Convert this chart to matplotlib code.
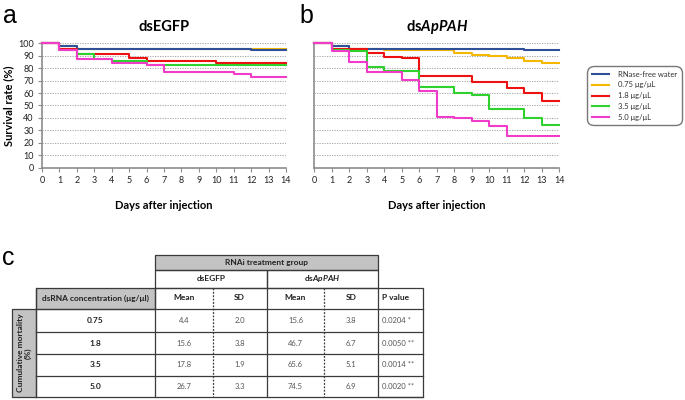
import matplotlib
matplotlib.use("Agg")
import matplotlib.pyplot as plt
from matplotlib.patches import Rectangle
from matplotlib.lines import Line2D

plt.rcParams['font.family'] = ['Lato', 'DejaVu Sans']
plt.rcParams['mathtext.fontset'] = 'custom'
plt.rcParams['mathtext.bfit'] = 'Lato:italic:bold'
plt.rcParams['mathtext.it'] = 'Lato:italic'
plt.rcParams['mathtext.rm'] = 'Lato'

# ---- survival data (step changes: day, survival %) ----
series_names = ['RNase-free water', '0.75 \u03bcg/\u03bcL', '1.8 \u03bcg/\u03bcL',
                '3.5 \u03bcg/\u03bcL', '5.0 \u03bcg/\u03bcL']
colors = ['#2f4f96', '#f5b800', '#ee1111', '#2ed12e', '#f03cc8']

egfp_water_days = [0, 1, 2, 12, 14]
egfp_water = [100, 97.8, 95.6, 94.4, 94.4]
egfp_075_days = [0, 1, 2, 14]
egfp_075 = [100, 97.8, 95.8, 95.8]
egfp_18_days = [0, 1, 2, 5, 6, 10, 14]
egfp_18 = [100, 95.4, 91.3, 88.0, 85.6, 84.4, 84.4]
egfp_35_days = [0, 1, 2, 3, 4, 6, 14]
egfp_35 = [100, 95.0, 91.3, 87.4, 86.0, 82.2, 82.2]
egfp_50_days = [0, 1, 2, 4, 6, 7, 11, 12, 14]
egfp_50 = [100, 94.4, 87.2, 84.0, 82.6, 77.0, 75.6, 73.3, 73.3]

appah_water_days = [0, 1, 2, 12, 14]
appah_water = [100, 97.5, 95.7, 94.5, 94.5]
appah_075_days = [0, 1, 2, 4, 8, 9, 10, 11, 12, 13, 14]
appah_075 = [100, 97.5, 95.6, 94.8, 92.4, 90.4, 89.5, 88.2, 86.0, 84.4, 84.4]
appah_18_days = [0, 1, 3, 4, 5, 6, 9, 11, 12, 13, 14]
appah_18 = [100, 95.4, 92.4, 89.3, 87.8, 74.0, 69.2, 63.8, 60.2, 53.3, 53.3]
appah_35_days = [0, 1, 2, 3, 4, 6, 8, 9, 10, 12, 13, 14]
appah_35 = [100, 95.0, 93.8, 80.9, 77.9, 64.6, 60.0, 58.7, 46.9, 40.2, 34.4, 34.4]
appah_50_days = [0, 1, 2, 3, 5, 6, 7, 8, 9, 10, 11, 14]
appah_50 = [100, 94.1, 85.3, 77.2, 70.3, 61.7, 41.0, 39.6, 37.8, 33.5, 25.5, 25.5]

panel_titles = ['dsEGFP', r'ds$\mathbfit{ApPAH}$']
day_ticks = list(range(0, 15))
rate_ticks = list(range(0, 101, 10))

# ---- table data ----
conc_labels = ['0.75', '1.8', '3.5', '5.0']
egfp_mean = [4.4, 15.6, 17.8, 26.7]
egfp_sd = [2.0, 3.8, 1.9, 3.3]
appah_mean = [15.6, 46.7, 65.6, 74.5]
appah_sd = [3.8, 6.7, 5.1, 6.9]
p_values = ['0.0204 *', '0.0050 **', '0.0014 **', '0.0020 **']

W, H = 685, 400
fig = plt.figure(figsize=(W / 100, H / 100), dpi=100)


def frac(x0, y0, x1, y1):
    return [x0 / W, 1 - y1 / H, (x1 - x0) / W, (y1 - y0) / H]


panels = [
    [(egfp_water_days, egfp_water), (egfp_075_days, egfp_075), (egfp_18_days, egfp_18),
     (egfp_35_days, egfp_35), (egfp_50_days, egfp_50)],
    [(appah_water_days, appah_water), (appah_075_days, appah_075), (appah_18_days, appah_18),
     (appah_35_days, appah_35), (appah_50_days, appah_50)],
]
ax_boxes = [frac(42, 43.3, 286, 167.7), frac(314.3, 43.3, 559.3, 167.7)]
zorders = [3, 2, 4, 5, 6]

axes = []
for i, (data, box) in enumerate(zip(panels, ax_boxes)):
    ax = fig.add_axes(box)
    for (d, v), c, z in zip(data, colors, zorders):
        ax.step(d, v, where='post', color=c, lw=1.5, zorder=z, clip_on=False)
    ax.set_xlim(0, 14)
    ax.set_ylim(0, 100)
    ax.set_xticks(day_ticks)
    ax.set_yticks(rate_ticks)
    ax.yaxis.grid(True, linestyle=(0, (1.5, 1.5)), color='#9a9a9a', lw=0.6)
    ax.set_axisbelow(True)
    for s in ['top', 'right']:
        ax.spines[s].set_visible(False)
    for s in ['left', 'bottom']:
        ax.spines[s].set_color('#8c8c8c')
        ax.spines[s].set_linewidth(1.2)
    ax.tick_params(colors='#8c8c8c', labelcolor='#222222', labelsize=6.5,
                   length=3, width=0.8, pad=3)
    ax.set_xlabel('Days after injection', fontsize=8, fontweight='bold', labelpad=11)
    ax.set_title(panel_titles[i], fontsize=10.5, fontweight='bold', pad=9)
    if i == 0:
        ax.set_ylabel('Survival rate (%)', fontsize=8, fontweight='bold', labelpad=3)
    else:
        ax.tick_params(axis='y', labelleft=False, length=0)
    axes.append(ax)

handles = [Line2D([], [], color=c, lw=1.5) for c in colors]
leg = fig.legend(handles, series_names, loc='upper left',
                 bbox_to_anchor=(587 / W, 1 - 66 / H), bbox_transform=fig.transFigure,
                 borderaxespad=0, fontsize=5.5, handlelength=2.3, handletextpad=1.2,
                 labelspacing=0.5, borderpad=0.6, frameon=True, fancybox=True,
                 edgecolor='#777777', framealpha=1, labelcolor='#333333')
leg.get_frame().set_boxstyle('round,pad=0,rounding_size=0.9')

# ---- overlay for panel letters and table (pixel coordinates) ----
ov = fig.add_axes([0, 0, 1, 1])
ov.set_xlim(0, W)
ov.set_ylim(H, 0)
ov.axis('off')
ov.patch.set_alpha(0)

ov.text(3, 16, 'a', fontsize=18, family='Liberation Sans', va='center', ha='left')
ov.text(299, 16, 'b', fontsize=18, family='Liberation Sans', va='center', ha='left')
ov.text(2, 258, 'c', fontsize=18, family='Liberation Sans', va='center', ha='left')

gray = '#c3c3c3'
lc = '#3a3a3a'
lw = 0.9


def box(x0, y0, x1, y1, fill=None):
    ov.add_patch(Rectangle((x0, y0), x1 - x0, y1 - y0,
                           facecolor=fill if fill else 'none', edgecolor=lc, lw=lw))


def vline(x, y0, y1, dashed=False):
    ov.plot([x, x], [y0, y1], color=lc, lw=lw,
            linestyle=(0, (1.5, 1.2)) if dashed else '-')


def hline(y, x0, x1):
    ov.plot([x0, x1], [y, y], color=lc, lw=lw)


col_x = [12, 36, 155, 212.7, 266.7, 324.3, 378.3, 423.3]
row_y = [255, 270, 287.5, 308.5, 332.3, 354, 375.7, 397.3]

box(col_x[2], row_y[0], col_x[6], row_y[1], gray)
box(col_x[2], row_y[1], col_x[4], row_y[2])
box(col_x[4], row_y[1], col_x[6], row_y[2])
box(col_x[1], row_y[2], col_x[2], row_y[3], gray)
box(col_x[0], row_y[3], col_x[1], row_y[7], gray)
box(col_x[6], row_y[2], col_x[7], row_y[7])
hline(row_y[2], col_x[2], col_x[6])
for y in row_y[3:]:
    hline(y, col_x[1], col_x[7])
for x in [col_x[1], col_x[2], col_x[4]]:
    vline(x, row_y[2], row_y[7])
for x in [col_x[3], col_x[5]]:
    vline(x, row_y[2], row_y[7], dashed=True)

hdr = dict(fontsize=6, fontweight='bold', ha='center', va='center', color='#222222')
ov.text((col_x[2] + col_x[6]) / 2, (row_y[0] + row_y[1]) / 2, 'RNAi treatment group', **hdr)
ov.text((col_x[2] + col_x[4]) / 2, (row_y[1] + row_y[2]) / 2, 'dsEGFP', **hdr)
ov.text((col_x[4] + col_x[6]) / 2, (row_y[1] + row_y[2]) / 2, r'ds$\mathbfit{ApPAH}$', **hdr)
ov.text((col_x[1] + col_x[2]) / 2, (row_y[2] + row_y[3]) / 2,
        'dsRNA concentration (\u03bcg/\u03bcl)', **hdr)
ym = (row_y[2] + row_y[3]) / 2
for x0, x1, lab in [(col_x[2], col_x[3], 'Mean'), (col_x[3], col_x[4], 'SD'),
                    (col_x[4], col_x[5], 'Mean'), (col_x[5], col_x[6], 'SD')]:
    ov.text((x0 + x1) / 2, ym, lab, **hdr)
ov.text(col_x[6] + 4, ym, 'P value', fontsize=6, fontweight='bold', ha='left',
        va='center', color='#222222')
ov.text((col_x[0] + col_x[1]) / 2, (row_y[3] + row_y[7]) / 2,
        'Cumulative mortality\n(%)', fontsize=6, fontweight='bold', rotation=90,
        ha='center', va='center', color='#222222', linespacing=1.1)

val = dict(fontsize=5.5, ha='center', va='center', color='#555555')
for r in range(len(conc_labels)):
    yc = (row_y[3 + r] + row_y[4 + r]) / 2
    ov.text((col_x[1] + col_x[2]) / 2, yc, conc_labels[r], fontsize=6,
            fontweight='bold', ha='center', va='center', color='#222222')
    ov.text((col_x[2] + col_x[3]) / 2, yc, f'{egfp_mean[r]:.1f}', **val)
    ov.text((col_x[3] + col_x[4]) / 2, yc, f'{egfp_sd[r]:.1f}', **val)
    ov.text((col_x[4] + col_x[5]) / 2, yc, f'{appah_mean[r]:.1f}', **val)
    ov.text((col_x[5] + col_x[6]) / 2, yc, f'{appah_sd[r]:.1f}', **val)
    ov.text(col_x[6] + 4, yc, p_values[r], fontsize=5.5, ha='left', va='center',
            color='#555555')

fig.savefig('out.png', dpi=100, facecolor='white')
